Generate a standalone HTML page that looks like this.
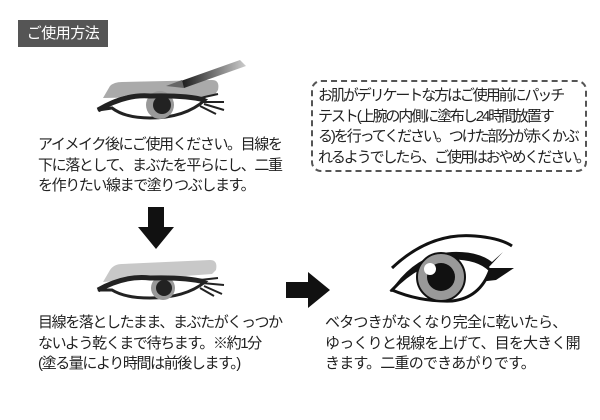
<!DOCTYPE html>
<html><head><meta charset="utf-8"><style>
body{margin:0;width:600px;height:420px;background:#fff;position:relative;overflow:hidden;font-family:"Liberation Sans","Noto Sans CJK JP",sans-serif;color:#222}
.t{position:absolute;font-size:15px;line-height:20.5px;letter-spacing:-1.4px;white-space:nowrap}
.title{position:absolute;left:18px;top:20px;width:90px;height:27px;background:#555;color:#fff;font-size:15px;line-height:27px;text-align:center;letter-spacing:-0.5px}
.box{position:absolute;left:311px;top:80px;width:272px;height:88px;border:2px dashed #555;border-radius:10px}
svg{position:absolute;left:0;top:0}
</style></head><body>
<div class="title">ご使用方法</div>
<svg width="600" height="420">
<defs><linearGradient id="g" x1="0" x2="1"><stop offset="0" stop-color="#111"/><stop offset="1" stop-color="#ccc"/></linearGradient></defs>
<!-- eye 1 -->
<path d="M103 98 L110 86 Q114 82 122 82 L212 80 Q220 80 218 90 L214 96 Z" fill="#aaa"/>
<path d="M178 82 L240 60 L246 66 L184 88 Z" fill="url(#g)"/>
<path d="M166 86 L182 80 L184 88 Z" fill="#666"/>
<path d="M98 110 Q120 94 150 95 Q185 95 205 100 Q185 118 150 118 Q125 118 112 108 Z" fill="#fff" stroke="#222" stroke-width="3"/>
<circle cx="160" cy="105" r="14" fill="#999"/><circle cx="162" cy="105" r="9" fill="#222"/>
<path d="M98 110 Q125 94 150 96 Q185 95 205 100" fill="none" stroke="#222" stroke-width="5"/>
<path d="M200 98 l18 -4 M202 102 l22 0 M204 104 l20 6 M200 106 l16 8" stroke="#222" stroke-width="2"/>
<!-- down arrow -->
<path d="M148 207 h16 v20 h10 l-18 22 l-18 -22 h10 z" fill="#111"/>
<!-- eye 2 -->
<path d="M103 282 L110 270 Q114 264 122 264 L210 260 Q218 260 216 270 L212 274 Z" fill="#c8c8c8"/>
<path d="M98 290 Q125 276 150 278 Q185 278 205 282 Q185 298 150 298 Q125 298 112 290 Z" fill="#fff" stroke="#222" stroke-width="3"/>
<circle cx="163" cy="288" r="12" fill="#999"/><circle cx="164" cy="288" r="8" fill="#222"/>
<path d="M98 290 Q125 275 150 278 Q185 277 205 282" fill="none" stroke="#222" stroke-width="5"/>
<path d="M200 280 l18 -2 M202 283 l22 2 M204 286 l18 8 M200 288 l14 8" stroke="#222" stroke-width="2"/>
<!-- right arrow -->
<path d="M286 282 h22 v-10 l22 18 l-22 18 v-10 h-22 z" fill="#111"/>
<!-- eye 3 -->
<path d="M392 268 Q430 232 475 236 Q500 238 512 246" fill="none" stroke="#111" stroke-width="3"/>
<path d="M390 292 Q415 254 452 252 Q478 251 492 262 L503 252 L488 268 L514 268 L496 280" fill="#111"/>
<path d="M392 290 Q418 262 452 258 Q478 258 490 270 Q480 298 452 301 Q420 302 392 290 Z" fill="#fff" stroke="#111" stroke-width="3"/>
<circle cx="441" cy="277" r="24" fill="#999" stroke="#111" stroke-width="2"/>
<circle cx="441" cy="277" r="14" fill="#111"/>
<circle cx="430" cy="269" r="6" fill="#fff"/>
</svg>
<div class="box"></div>
<div class="t" style="left:318px;top:86px;letter-spacing:-2.1px">お肌がデリケートな方はご使用前にパッチ<br>テスト(上腕の内側に塗布し24時間放置す<br>る)を行ってください。つけた部分が赤くかぶ<br>れるようでしたら、ご使用はおやめください。</div>
<div class="t" style="left:38px;top:135px;">アイメイク後にご使用ください。目線を<br>下に落として、まぶたを平らにし、二重<br>を作りたい線まで塗りつぶします。</div>
<div class="t" style="left:38px;top:313px;">目線を落としたまま、まぶたがくっつか<br>ないよう乾くまで待ちます。※約1分<br>(塗る量により時間は前後します。)</div>
<div class="t" style="left:325px;top:313px;letter-spacing:-0.8px">ベタつきがなくなり完全に乾いたら、<br>ゆっくりと視線を上げて、目を大きく開<br>きます。二重のできあがりです。</div>
</body></html>
